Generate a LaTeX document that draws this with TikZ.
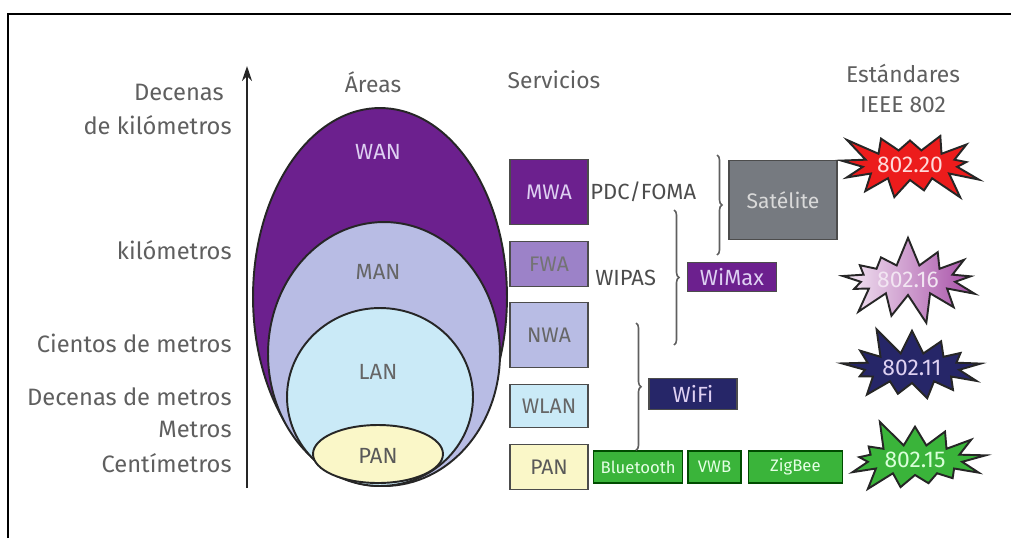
\documentclass[tikz,border=0pt]{standalone}
\usepackage{fontspec}
\setmainfont{Fira Sans}
\usepackage{tikz}
\usetikzlibrary{shapes.geometric,shapes.symbols,arrows.meta,positioning,decorations.pathreplacing}
\definecolor{wanpurple}{RGB}{108,32,142}
\definecolor{manblue}{RGB}{184,188,228}
\definecolor{lanblue}{RGB}{202,234,247}
\definecolor{panyellow}{RGB}{250,247,200}
\definecolor{fwapurple}{RGB}{156,130,200}
\definecolor{satgray}{RGB}{118,122,128}
\definecolor{wifinavy}{RGB}{38,38,104}
\definecolor{bgreen}{RGB}{58,180,58}
\definecolor{txtgray}{RGB}{95,95,95}
\definecolor{lighttxt}{RGB}{222,208,242}
\definecolor{burstred}{RGB}{236,28,28}
\tikzstyle{scale label} = [anchor=east, inner sep=0pt, text=txtgray, font=\fontsize{13.5}{15}\selectfont]
\tikzstyle{heading} = [text=txtgray, inner sep=0pt, font=\fontsize{13}{15}\selectfont]
\tikzstyle{area} = [ellipse, draw=black!85, line width=1.1pt, inner sep=0pt]
\tikzstyle{area label} = [font=\fontsize{12.5}{14}\selectfont]
\tikzstyle{service} = [rectangle, draw=black!70, line width=1.1pt, minimum width=1.56cm, inner sep=0pt, font=\fontsize{12}{14}\selectfont]
\tikzstyle{tech} = [rectangle, draw=black!70, line width=0.8pt, inner sep=0pt, font=\fontsize{12.5}{14}\selectfont]
\tikzstyle{small tech} = [tech, draw=green!30!black, fill=bgreen, text=green!10, minimum height=0.64cm, font=\fontsize{9.5}{11}\selectfont]
\tikzstyle{burst} = [starburst, starburst points=13, starburst point height=0.6cm, draw=black!85, line width=1.1pt, minimum width=3.1cm, minimum height=1.8cm, inner sep=0pt, font=\fontsize{13}{14}\selectfont]
\tikzstyle{grouping} = [decorate, decoration={brace, amplitude=0.1cm}, draw=txtgray, line width=0.9pt]

\begin{document}
\begin{tikzpicture}[x=0.02cm, y=-0.02cm]
\useasboundingbox (0,0) rectangle (1011,538);
\draw[line width=1.1pt] (8,538) -- (8,14) -- (1011,14);

% escala de distancias
\coordinate (axbot) at (247,488);
\coordinate (axtop) at (247,66);
\draw[line width=1.1pt, black!85, -{Stealth[length=0.3cm, width=0.2cm]}] (axbot) -- (axtop);
\node (dk1) [scale label] at (224,92) {Decenas};
\node (dk2) [scale label] at (232,125) {de kilómetros};
\node (km) [scale label] at (232,250) {kilómetros};
\node (cm1) [scale label] at (232,343) {Cientos de metros};
\node (dm) [scale label] at (232,397) {Decenas de metros};
\node (m) [scale label] at (232,429) {Metros};
\node (cm2) [scale label] at (232,463) {Centímetros};

% areas
\node (areas) [heading] at (373,82) {Áreas};
\node (wan) [area, fill=wanpurple, minimum width=5.08cm, minimum height=7.56cm] at (380,297) {};
\node (man) [area, fill=manblue, minimum width=4.64cm, minimum height=5.28cm] at (384,354) {};
\node (lan) [area, fill=lanblue, minimum width=3.72cm, minimum height=3.56cm] at (380,397) {};
\node (pan) [area, fill=panyellow, minimum width=2.6cm, minimum height=1.16cm] at (378,454) {};
\node [area label, text=lighttxt] at (378,152) {WAN};
\node [area label, text=black!60] at (378,272) {MAN};
\node [area label, text=black!60] at (378,372) {LAN};
\node [area label, text=black!65] at (378,456) {PAN};

% servicios
\node (servicios) [heading] at (554,80) {Servicios};
\node (mwa) [service, fill=wanpurple, text=lighttxt, minimum height=1.3cm] at (549,192) {MWA};
\node (fwa) [service, fill=fwapurple, text=black!55, minimum height=0.9cm] at (549,264) {FWA};
\node (nwa) [service, fill=manblue, text=black!60, minimum height=1.3cm] at (549,335) {NWA};
\node (wlan) [service, fill=lanblue, text=black!60, minimum height=0.86cm] at (549,406) {WLAN};
\node (svpan) [service, fill=panyellow, text=black!65, minimum height=0.9cm] at (549,467) {PAN};
\node (pdc) [anchor=west, inner sep=0pt, text=black!70, font=\fontsize{12.5}{14}\selectfont] at (590,192) {PDC/FOMA};
\node (wipas) [anchor=west, inner sep=0pt, text=black!70, font=\fontsize{12.5}{14}\selectfont] at (595,278) {WIPAS};

\node (bt) [small tech, minimum width=1.78cm, right=0.08cm of svpan.east, anchor=west] {Bluetooth};
\node (vwb) [small tech, minimum width=1.06cm, right=0.08cm of bt] {VWB};
\node (zig) [small tech, minimum width=1.88cm, right=0.12cm of vwb] {ZigBee};

\node (wimax) [tech, fill=wanpurple, text=lighttxt, minimum width=1.78cm, minimum height=0.58cm] at (732,277) {WiMax};
\node (sat) [tech, fill=satgray, draw=black!70, line width=1.1pt, text=black!15, font=\fontsize{12}{14}\selectfont, minimum width=2.16cm, minimum height=1.58cm] at (783,200) {Satélite};
\node (wifi) [tech, fill=wifinavy, text=lighttxt, minimum width=1.76cm, minimum height=0.62cm] at (693,394) {WiFi};

\coordinate (b1top) at (717,155);
\coordinate (b1bot) at (717,255);
\coordinate (b2top) at (674,210);
\coordinate (b2bot) at (674,345);
\coordinate (b3top) at (636,323);
\draw[grouping] (b1top) -- (b1bot);
\draw[grouping] (b2top) -- (b2bot);
\draw[grouping] (b3top) -- (bt.north -| b3top);

% estandares
\node (est1) [heading] at (903,73) {Estándares};
\node (est2) [heading] at (903,105) {IEEE 802};
\node (s20) [burst, random starburst=3, fill=burstred, text=red!15] at (910,165) {802.20};
\node (s16) [burst, random starburst=7, left color=violet!8, right color=violet!70, text=violet!10] at (908,280) {802.16};
\node (s11) [burst, random starburst=11, fill=wifinavy, text=lighttxt] at (912,368) {802.11};
\node (s15) [burst, random starburst=5, fill=bgreen, text=green!15] at (915,460) {802.15};
\end{tikzpicture}
\end{document}
